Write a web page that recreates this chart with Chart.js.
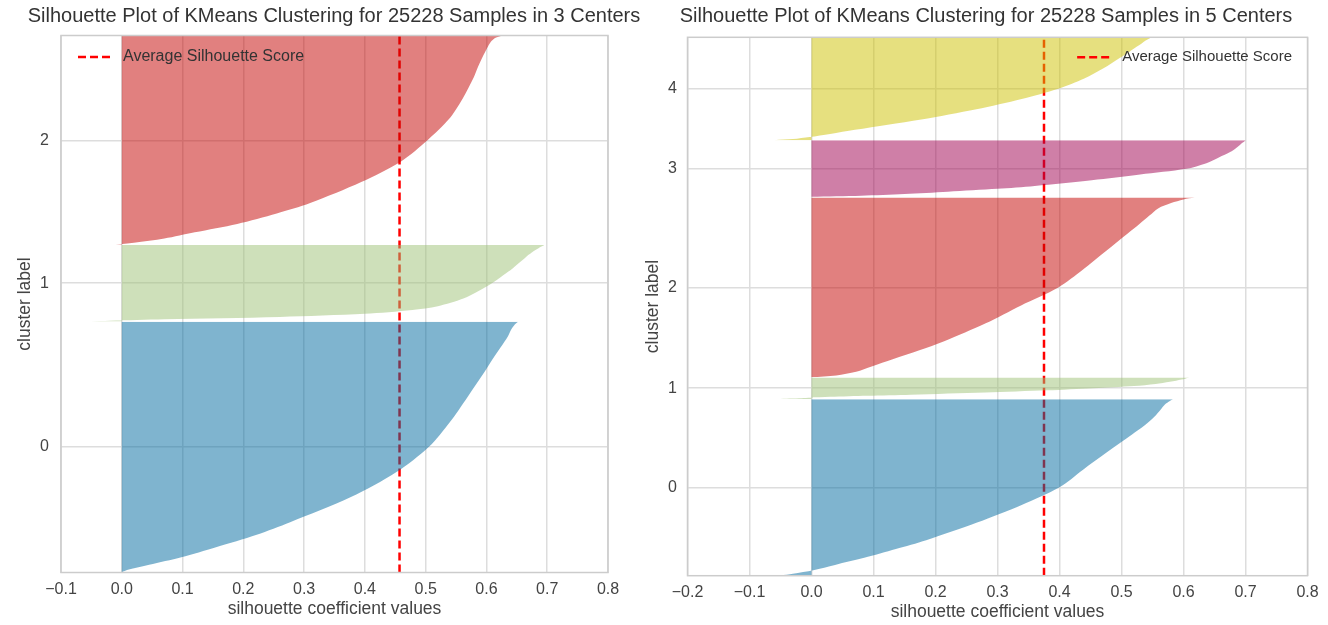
<!DOCTYPE html>
<html>
<head>
<meta charset="utf-8">
<script src="https://cdn.jsdelivr.net/npm/chart.js@4.4.1/dist/chart.umd.min.js"></script>
<style>
    body { margin: 0; background: #ffffff; overflow: hidden; }
    #grafico_3 { position: absolute; left: 0; top: 0; }
    #grafico_5 { position: absolute; left: 640px; top: 0; }
</style>
</head>
<body>
<canvas id="grafico_3" width="668" height="625"></canvas>
<canvas id="grafico_5" width="692" height="625"></canvas>
<script>
const posicoes = [0, 0.01, 0.03, 0.06, 0.1, 0.15, 0.2, 0.3, 0.4, 0.5, 0.6, 0.7, 0.8, 0.85, 0.9, 0.94, 0.97, 0.99, 1];

// GRAFICO DA ESQUERDA: 3 CENTROS
const titulo_3 = 'Silhouette Plot of KMeans Clustering for 25228 Samples in 3 Centers';
const amostras_3 = [11791, 3599, 9838];
const silhueta_3_c0 = [0.0, 0.01, 0.045, 0.098, 0.155, 0.222, 0.277, 0.377, 0.452, 0.505, 0.540, 0.569, 0.597, 0.610, 0.624, 0.635, 0.641, 0.647, 0.652];
const silhueta_3_c1 = [-0.05, -0.02, 0.07, 0.26, 0.40, 0.478, 0.52, 0.562, 0.587, 0.609, 0.627, 0.644, 0.659, 0.666, 0.674, 0.682, 0.688, 0.693, 0.695];
const silhueta_3_c2 = [-0.01, 0.02, 0.07, 0.12, 0.19, 0.255, 0.31, 0.394, 0.46, 0.503, 0.538, 0.561, 0.579, 0.586, 0.594, 0.601, 0.607, 0.615, 0.625];
const media_3 = 0.457;
const ticks_x_3 = [-0.1, 0.0, 0.1, 0.2, 0.3, 0.4, 0.5, 0.6, 0.7, 0.8];
const rotulos_y_3 = ['0', '1', '2'];

// GRAFICO DA DIREITA: 5 CENTROS
const titulo_5 = 'Silhouette Plot of KMeans Clustering for 25228 Samples in 5 Centers';
const amostras_5 = [8283, 1008, 8438, 2679, 4820];
const silhueta_5_c0 = [-0.05, -0.03, 0.003, 0.038, 0.085, 0.136, 0.185, 0.267, 0.339, 0.40, 0.438, 0.477, 0.517, 0.537, 0.553, 0.563, 0.570, 0.578, 0.583];
const silhueta_5_c1 = [-0.05, -0.04, -0.02, -0.005, 0.03, 0.09, 0.16, 0.28, 0.38, 0.455, 0.52, 0.555, 0.578, 0.588, 0.597, 0.603, 0.606, 0.608, 0.61];
const silhueta_5_c2 = [0.0, 0.04, 0.072, 0.097, 0.131, 0.174, 0.214, 0.281, 0.338, 0.398, 0.438, 0.474, 0.51, 0.528, 0.545, 0.559, 0.58, 0.6, 0.618];
const silhueta_5_c3 = [0.0, 0.0, 0.08, 0.15, 0.22, 0.30, 0.36, 0.452, 0.53, 0.604, 0.637, 0.657, 0.676, 0.683, 0.689, 0.693, 0.697, 0.699, 0.70];
const silhueta_5_c4 = [-0.06, -0.03, -0.003, 0.03, 0.07, 0.123, 0.177, 0.266, 0.339, 0.398, 0.44, 0.471, 0.497, 0.51, 0.522, 0.532, 0.539, 0.545, 0.548];
const media_5 = 0.375;
const ticks_x_5 = [-0.2, -0.1, 0.0, 0.1, 0.2, 0.3, 0.4, 0.5, 0.6, 0.7, 0.8];
const rotulos_y_5 = ['0', '1', '2', '3', '4'];

const cores_clusters = [
    'rgba(0, 105, 160, 0.5)',
    'rgba(157, 193, 117, 0.5)',
    'rgba(195, 2, 0, 0.5)',
    'rgba(159, 0, 80, 0.5)',
    'rgba(205, 193, 0, 0.5)'
];

const fonte = '"Liberation Sans", Arial, sans-serif';

function montarDatasets(amostras, curvas, media) {
    let y_inferior = 10;
    const datasets = [];
    const centros = [];
    for (let i = 0; i < amostras.length; i++) {
        const n = amostras[i];
        const base = y_inferior;
        datasets.push({
            data: curvas[i].map((v, j) => ({ x: v, y: base + posicoes[j] * n })),
            backgroundColor: cores_clusters[i],
            borderColor: 'rgba(0, 0, 0, 0)',
            borderWidth: 1,
            fill: { value: 0 },
            tension: 0.3,
            pointRadius: 0
        });
        centros.push(y_inferior + 0.5 * n);
        y_inferior += n + 10;
    }
    datasets.push({
        label: 'Average Silhouette Score',
        data: [{ x: media, y: 0 }, { x: media, y: y_inferior }],
        borderColor: '#ff0000',
        borderWidth: 2.5,
        borderDash: [8, 4],
        fill: false,
        pointRadius: 0
    });
    return { datasets: datasets, centros: centros, topo: y_inferior };
}

// LEGENDA DENTRO DA AREA DO GRAFICO E MOLDURA DOS EIXOS
const legenda_interna = {
    id: 'legenda_interna',
    afterDatasetsDraw(chart, args, opts) {
        const ctx = chart.ctx;
        const area = chart.chartArea;
        ctx.save();
        ctx.strokeStyle = '#cccccc';
        ctx.lineWidth = 1.5;
        ctx.strokeRect(area.left, area.top, area.right - area.left, area.bottom - area.top);

        const ds = chart.data.datasets[chart.data.datasets.length - 1];
        ctx.font = opts.tamanho + 'px ' + fonte;
        const largura = ctx.measureText(ds.label).width;
        let x_texto;
        if (opts.lado === 'esquerda') {
            x_texto = area.left + opts.margem;
        } else {
            x_texto = area.right - opts.margem - largura;
        }
        const y = area.top + opts.desce;
        ctx.strokeStyle = ds.borderColor;
        ctx.lineWidth = 2.5;
        ctx.setLineDash([8, 4]);
        ctx.beginPath();
        ctx.moveTo(x_texto - 45, y);
        ctx.lineTo(x_texto - 13, y);
        ctx.stroke();
        ctx.setLineDash([]);
        ctx.fillStyle = '#333333';
        ctx.textBaseline = 'middle';
        ctx.fillText(ds.label, x_texto, y);
        ctx.restore();
    }
};

function formatarTick(v) {
    return (v < 0 ? '\u2212' : '') + Math.abs(v).toFixed(1);
}

function configGrafico(titulo, montagem, ticks_x, rotulos_y, medidas) {
    return {
        type: 'line',
        data: { datasets: montagem.datasets },
        plugins: [legenda_interna],
        options: {
            indexAxis: 'y',
            responsive: false,
            animation: false,
            scales: {
                x: {
                    type: 'linear',
                    min: ticks_x[0],
                    max: ticks_x[ticks_x.length - 1],
                    afterBuildTicks: s => { s.ticks = ticks_x.map(v => ({ value: v })); },
                    afterFit: s => { s.height = medidas.altura_x; },
                    grid: { color: '#dddddd', lineWidth: 1.5, drawTicks: false },
                    border: { display: false },
                    ticks: {
                        autoSkip: false,
                        maxRotation: 0,
                        color: '#444444',
                        padding: 7,
                        font: { size: 16, family: fonte },
                        callback: v => formatarTick(v)
                    },
                    title: {
                        display: true,
                        text: 'silhouette coefficient values',
                        color: '#444444',
                        font: { size: 17.5, family: fonte },
                        padding: { top: 0, bottom: medidas.pad_titulo_x }
                    }
                },
                y: {
                    type: 'linear',
                    min: 0,
                    max: montagem.topo,
                    afterBuildTicks: s => { s.ticks = montagem.centros.map(v => ({ value: v })); },
                    afterFit: s => { s.width = medidas.largura_y; },
                    grid: { color: '#dddddd', lineWidth: 1.5, drawTicks: false },
                    border: { display: false },
                    ticks: {
                        autoSkip: false,
                        color: '#444444',
                        padding: medidas.pad_ticks_y,
                        font: { size: 16, family: fonte },
                        callback: (v, i) => rotulos_y[i]
                    },
                    title: {
                        display: true,
                        text: 'cluster label',
                        color: '#444444',
                        font: { size: 17.5, family: fonte },
                        padding: { top: medidas.pad_titulo_y, bottom: 0 }
                    }
                },
                // EIXO VAZIO SO PARA DAR MARGEM A DIREITA SEM DESCENTRALIZAR O TITULO
                y_margem: {
                    type: 'linear',
                    position: 'right',
                    display: true,
                    afterFit: s => { s.width = medidas.direita; },
                    grid: { display: false, drawTicks: false },
                    border: { display: false },
                    ticks: { display: false }
                }
            },
            plugins: {
                legend: { display: false },
                tooltip: { enabled: false },
                title: {
                    display: true,
                    text: titulo,
                    color: '#333333',
                    font: { size: 20, family: fonte, weight: 'normal' },
                    padding: { top: 4.5, bottom: medidas.pad_titulo }
                },
                legenda_interna: medidas.legenda
            }
        }
    };
}

const montagem_3 = montarDatasets(amostras_3, [silhueta_3_c0, silhueta_3_c1, silhueta_3_c2], media_3);
const montagem_5 = montarDatasets(amostras_5, [silhueta_5_c0, silhueta_5_c1, silhueta_5_c2, silhueta_5_c3, silhueta_5_c4], media_5);

const grafico_3 = new Chart(document.getElementById('grafico_3'), configGrafico(titulo_3, montagem_3, ticks_x_3, rotulos_y_3, {
    direita: 60,
    altura_x: 52.5,
    largura_y: 61,
    pad_titulo: 7,
    pad_titulo_x: 5.5,
    pad_titulo_y: 14.5,
    pad_ticks_y: 12,
    legenda: { lado: 'esquerda', margem: 62, desce: 21.5, tamanho: 16 }
}));

const grafico_5 = new Chart(document.getElementById('grafico_5'), configGrafico(titulo_5, montagem_5, ticks_x_5, rotulos_y_5, {
    direita: 24.5,
    altura_x: 49.3,
    largura_y: 47.5,
    pad_titulo: 8.8,
    pad_titulo_x: 2.5,
    pad_titulo_y: 2.5,
    pad_ticks_y: 10.5,
    legenda: { lado: 'direita', margem: 15.5, desce: 20, tamanho: 15 }
}));
</script>
</body>
</html>
